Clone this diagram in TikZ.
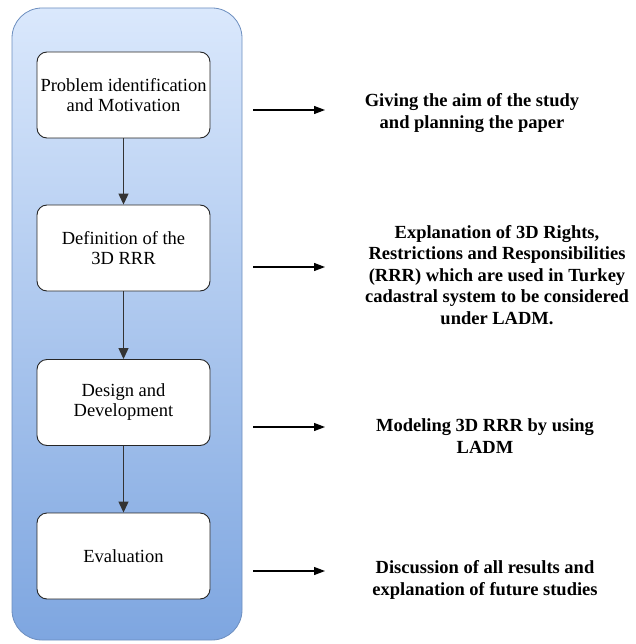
\documentclass[tikz,border=0pt]{standalone}
\usepackage{fontspec}
\setmainfont{Liberation Serif}
\usetikzlibrary{arrows.meta}
\definecolor{topblue}{HTML}{DAE8FC}
\definecolor{botblue}{HTML}{7EA6E0}
\definecolor{edgeblue}{HTML}{6C8EBF}
\tikzset{
  stepbox/.style={draw=black!85, line width=0.9pt, fill=white, rounded corners=10pt,
    minimum width=173pt, minimum height=86pt, align=center, inner sep=1pt,
    font=\fontsize{18.5}{20}\selectfont},
  desc/.style={align=center, font=\bfseries\fontsize{18.5}{21.5}\selectfont, inner sep=0pt},
  flow/.style={-{Triangle[length=11pt,width=10pt]}, line width=1.2pt, black!80},
  side/.style={-{Triangle[length=11pt,width=8pt]}, line width=1.2pt, black},
}
\begin{document}
\begin{tikzpicture}[x=1pt,y=-1pt]
\useasboundingbox (0,0) rectangle (635,644);
\node[draw=edgeblue, line width=0.8pt, rounded corners=30pt, top color=topblue, bottom color=botblue,
  minimum width=230pt, minimum height=632pt, inner sep=0pt] (lane) at (127,324) {};
\node[stepbox] (s1) at (123.5,95) {Problem identification\\and Motivation};
\node[stepbox] (s2) at (123.5,248) {Definition of the\\3D RRR};
\node[stepbox] (s3) at (123.5,402.5) {Design and\\Development};
\node[stepbox] (s4) at (123.5,556) {Evaluation};
\draw[flow] (s1) -- (s2);
\draw[flow] (s2) -- (s3);
\draw[flow] (s3) -- (s4);
\node[desc] (d1) at (472,113) {Giving the aim of the study\\and planning the paper};
\node[desc] (d2) at (497,275) {Explanation of 3D Rights,\\Restrictions and Responsibilities\\(RRR) which are used in Turkey\\cadastral system to be considered\\under LADM.};
\node[desc] (d3) at (485,436) {Modeling 3D RRR by using\\LADM};
\node[desc] (d4) at (485,580) {Discussion of all results and\\explanation of future studies};
\coordinate (a1) at (253,110);
\coordinate (a2) at (253,267);
\coordinate (a3) at (253,427);
\coordinate (a4) at (253,571);
\draw[side] (a1) -- (325,110);
\draw[side] (a2) -- (325,267);
\draw[side] (a3) -- (325,427);
\draw[side] (a4) -- (325,571);
\end{tikzpicture}
\end{document}
